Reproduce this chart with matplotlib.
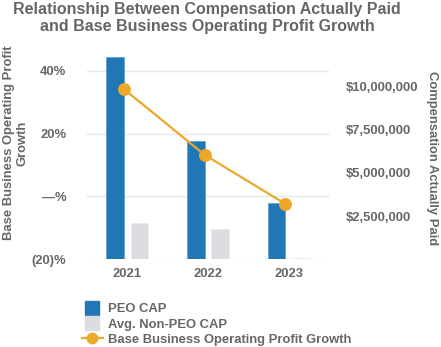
import matplotlib
matplotlib.use("Agg")
import matplotlib.pyplot as plt
import numpy as np
from matplotlib.lines import Line2D

plt.rcParams['font.family'] = ['Liberation Sans', 'DejaVu Sans']

years = ["2021", "2022", "2023"]
peo_cap = [11.66e6, 6.83e6, 3.23e6]
non_peo_cap = [2.08e6, 1.75e6, 0.06e6]
profit_growth = [34.1, 13.2, -2.4]

pct_ticks = [-20, 0, 20, 40]
pct_labels = ["(20)%", "—%", "20%", "40%"]
cap_ticks = [2.5e6, 5e6, 7.5e6, 10e6]
cap_labels = ["$2,500,000", "$5,000,000", "$7,500,000", "$10,000,000"]

TXT = '#666666'
BLUE = '#2176b6'
GREY = '#dcdde0'
ORANGE = '#eda82a'
GRID = '#e6e6e6'
FS = 9.4

fig = plt.figure(figsize=(4.41, 3.47), dpi=100)
ax = fig.add_axes([87/441, 1-259.3/347, 242/441, (259.3-55)/347])
ax2 = ax.twinx()

x = np.arange(len(years))
w = 0.218
ax2.bar(x - 0.152, peo_cap, w, color=BLUE, edgecolor='#5b9bd1', linewidth=0.5, zorder=2)
ax2.bar(x + 0.152, non_peo_cap, w, color=GREY, edgecolor='#ececee', linewidth=0.5, zorder=2)
ax2.plot(x - 0.04, profit_growth, color=ORANGE, lw=1.6, marker='o', ms=8.3,
         transform=ax.transData, zorder=3, clip_on=False)

ax.set_xlim(-0.5, 2.5)
ax.set_ylim(-20, 45)
ax2.set_ylim(0, 11.8e6)

ax.set_yticks(pct_ticks)
ax.set_yticklabels(pct_labels)
ax2.set_yticks(cap_ticks)
ax2.set_yticklabels(cap_labels)
ax.set_xticks(x)
ax.set_xticklabels(years)

for a in (ax, ax2):
    for s in a.spines.values():
        s.set_visible(False)
ax.grid(axis='y', color=GRID, lw=1.0)
ax.set_axisbelow(True)
ax.tick_params(axis='y', length=0, pad=15, labelsize=FS, labelcolor=TXT)
ax.tick_params(axis='x', length=0, pad=6, labelsize=FS, labelcolor=TXT)
ax2.tick_params(axis='y', length=0, pad=12, labelsize=FS, labelcolor=TXT)
for lab in ax.get_yticklabels() + ax.get_xticklabels() + ax2.get_yticklabels():
    lab.set_fontweight('bold')

fig.text(207/441, 1-2/347, "Relationship Between Compensation Actually Paid\nand Base Business Operating Profit Growth",
         ha='center', va='top', fontsize=11.5, fontweight='bold', color=TXT, linespacing=1.15)
fig.text(15.5/441, 1-143/347, "Base Business Operating Profit\nGrowth", rotation=90,
         ha='center', va='center', fontsize=FS, fontweight='bold', color=TXT, multialignment='center',
         linespacing=1.2)
fig.text(431.5/441, 1-158/347, "Compensation Actually Paid", rotation=270,
         ha='center', va='center', fontsize=FS, fontweight='bold', color=TXT)

handles = [
    Line2D([], [], marker='s', ms=9.4, color=BLUE, lw=0),
    Line2D([], [], marker='s', ms=9.4, color=GREY, lw=0),
    Line2D([], [], marker='o', ms=7.5, color=ORANGE, lw=1.6),
]
labels = ["PEO CAP", "Avg. Non-PEO CAP", "Base Business Operating Profit Growth"]
leg = fig.legend(handles, labels, loc='upper left', bbox_to_anchor=(81.7/441, 1-303/347),
                 bbox_transform=fig.transFigure, frameon=False, borderpad=0, borderaxespad=0,
                 handlelength=1.6, handletextpad=0.4, labelspacing=0.25,
                 prop={'size': FS, 'weight': 'bold'})
for t in leg.get_texts():
    t.set_color(TXT)

fig.savefig("out.png", dpi=100)
